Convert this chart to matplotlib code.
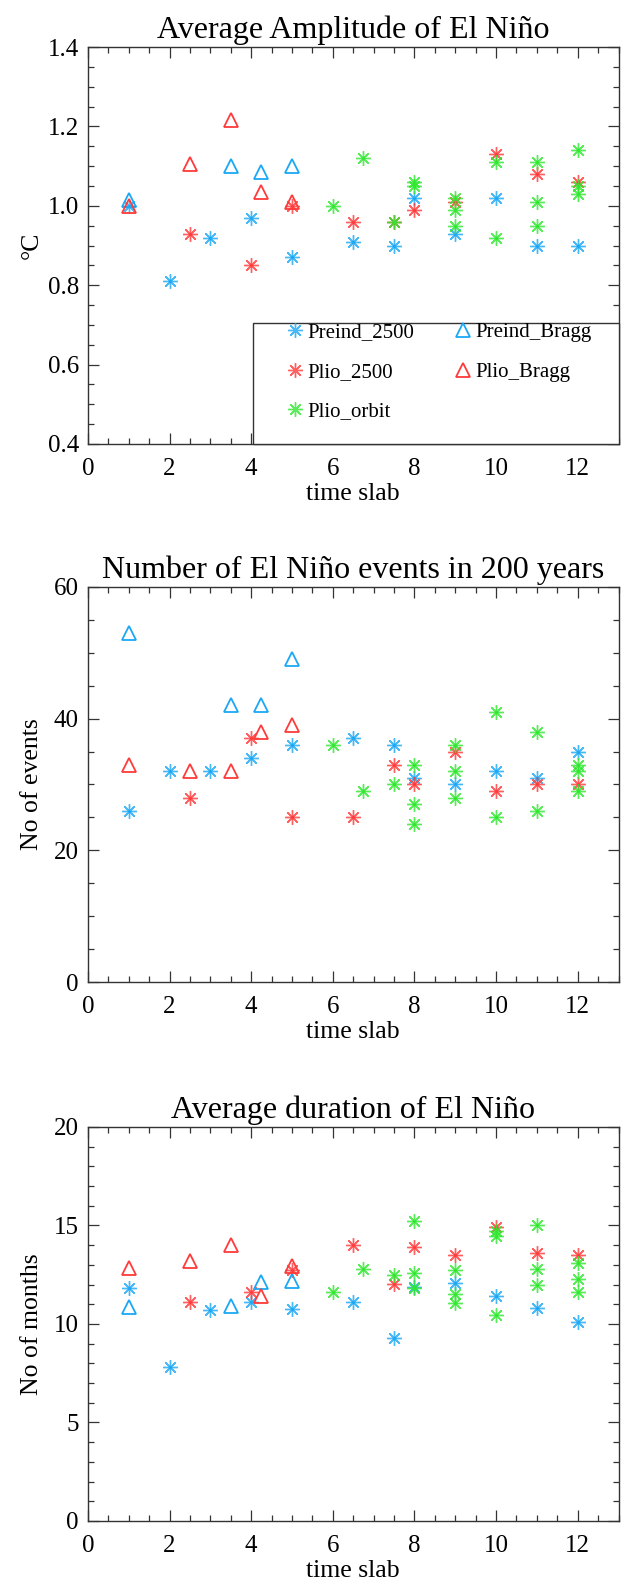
import matplotlib
matplotlib.use("Agg")
import matplotlib.pyplot as plt
from matplotlib.ticker import MultipleLocator, FormatStrFormatter
from matplotlib.patches import Rectangle

plt.rcParams['font.family'] = ['Liberation Serif', 'DejaVu Serif']

# x positions (time slabs) shared by all panels
preind2500_x = [1, 2, 3, 4, 5, 6.5, 7.5, 8, 9, 10, 11, 12]
preindbragg_x = [1, 3.5, 4.25, 5]
pliobragg_x = [1, 2.5, 3.5, 4.25, 5]
plio2500_x = [2.5, 4, 5, 6.5, 7.5, 8, 9, 10, 11, 12]

# Average amplitude (degC)
amp_preind2500 = [1.0, 0.81, 0.92, 0.97, 0.87, 0.91, 0.90, 1.02, 0.93, 1.02, 0.90, 0.90]
amp_preindbragg = [1.015, 1.10, 1.085, 1.10]
amp_pliobragg = [1.0, 1.105, 1.217, 1.036, 1.01]
amp_plio2500 = [0.93, 0.85, 1.0, 0.96, 0.96, 0.99, 1.01, 1.13, 1.08, 1.06]
amp_orbit_x = [6, 6.75, 7.5, 8, 8, 9, 9, 9, 10, 10, 11, 11, 11, 12, 12, 12]
amp_orbit = [1.0, 1.12, 0.96, 1.06, 1.05, 1.02, 0.99, 0.95, 1.11, 0.92, 1.11, 1.01, 0.95, 1.14, 1.05, 1.03]

# Number of events in 200 years
num_preind2500 = [26, 32, 32, 34, 36, 37, 36, 31, 30, 32, 31, 35]
num_preindbragg = [53, 42, 42, 49]
num_pliobragg = [33, 32, 32, 38, 39]
num_plio2500 = [28, 37, 25, 25, 33, 30, 35, 29, 30, 30]
num_orbit_x = [6, 6.75, 7.5, 8, 8, 8, 9, 9, 9, 10, 10, 11, 11, 12, 12, 12]
num_orbit = [36, 29, 30, 33, 27, 24, 36, 32, 28, 41, 25, 38, 26, 33, 32, 29]

# Average duration (months)
dur_preind2500 = [11.8, 7.8, 10.7, 11.1, 10.75, 11.1, 9.3, 11.9, 12.1, 11.4, 10.8, 10.1]
dur_preindbragg = [10.85, 10.9, 12.15, 12.2]
dur_pliobragg = [12.85, 13.2, 14.0, 11.4, 12.95]
dur_plio2500 = [11.1, 11.6, 12.75, 14.0, 12.05, 13.9, 13.5, 14.9, 13.6, 13.5]
dur_orbit_x = [6, 6.75, 7.5, 8, 8, 8, 9, 9, 9, 10, 10, 10, 11, 11, 11, 12, 12, 12]
dur_orbit = [11.6, 12.8, 12.5, 15.2, 12.6, 11.8, 12.75, 11.5, 11.05, 14.7, 14.45, 10.45,
             15.0, 12.8, 12.0, 13.1, 12.3, 11.6]

blue = '#1aa8f5'
red = '#ff3a3a'
green = '#2ee82e'
ast = (8, 2, 0)


def star(ax, x, y, c, label=None):
    ax.plot(x, y, ls='none', marker=ast, ms=10.5, mew=1.0, color=c, alpha=0.8, label=label)
    ax.plot(x, y, ls='none', marker='o', ms=2.2, mew=0, color=c)


def tri(ax, x, y, c, label=None):
    ax.plot(x, y, ls='none', marker='^', ms=10.5, mew=1.3, mfc='none', mec=c, label=label)


fig = plt.figure(figsize=(6.21, 15.89), dpi=100)
rects = [[0.1417, 0.7206, 0.8543, 0.2498],
         [0.1417, 0.382, 0.8543, 0.2486],
         [0.1417, 0.0428, 0.8543, 0.248]]

panels = [
    ("Average Amplitude of El Niño", "°C", (0.4, 1.4), 0.2, 0.05,
     amp_preind2500, amp_preindbragg, amp_pliobragg, amp_plio2500, amp_orbit_x, amp_orbit),
    ("Number of El Niño events in 200 years", "No of events", (0, 60), 20, 5,
     num_preind2500, num_preindbragg, num_pliobragg, num_plio2500, num_orbit_x, num_orbit),
    ("Average duration of El Niño", "No of months", (0, 20), 5, 1,
     dur_preind2500, dur_preindbragg, dur_pliobragg, dur_plio2500, dur_orbit_x, dur_orbit),
]

for i, (title, ylab, ylim, major, minor, p25, pb, lb, l25, ox, oy) in enumerate(panels):
    ax = fig.add_axes(rects[i])
    star(ax, preind2500_x, p25, blue, 'Preind_2500')
    star(ax, plio2500_x, l25, red, 'Plio_2500')
    star(ax, ox, oy, green, 'Plio_orbit')
    tri(ax, preindbragg_x, pb, blue, 'Preind_Bragg')
    tri(ax, pliobragg_x, lb, red, 'Plio_Bragg')

    ax.set_xlim(0, 13)
    ax.set_ylim(*ylim)
    ax.xaxis.set_major_locator(MultipleLocator(2))
    ax.xaxis.set_minor_locator(MultipleLocator(0.5))
    ax.yaxis.set_major_locator(MultipleLocator(major))
    ax.yaxis.set_minor_locator(MultipleLocator(minor))
    if i == 0:
        ax.yaxis.set_major_formatter(FormatStrFormatter('%.1f'))
    ax.tick_params(which='both', direction='in', top=True, right=True,
                   labelsize=18, width=0.9, color='#333333')
    ax.tick_params(which='major', length=8)
    ax.tick_params(which='minor', length=4)
    ax.tick_params(axis='x', which='major', pad=10)
    ax.tick_params(axis='y', which='major', pad=6.5)
    for s in ax.spines.values():
        s.set_linewidth(1.0)
        s.set_color('#333333')
    ax.set_title(title, fontsize=23, pad=6.5)
    ax.set_xlabel('time slab', fontsize=18.5, labelpad=2)
    ax.set_ylabel(ylab, fontsize=18.5)
    ax.yaxis.set_label_coords(-0.085, 0.5)

    if i == 0:
        # legend box drawn by hand so it runs to the right spine and the x axis
        ax.add_patch(Rectangle((0.311, 0.0), 0.689, 0.305, transform=ax.transAxes,
                               facecolor='white', edgecolor='#333333', lw=1.0,
                               zorder=4, clip_on=False))
        handles, labels = ax.get_legend_handles_labels()
        leg = ax.legend(handles, labels, ncol=2, loc='upper left',
                        bbox_to_anchor=(0.3745, 0.305), borderaxespad=0, borderpad=0,
                        frameon=False, fontsize=15, handlelength=0.8,
                        handletextpad=0.18, labelspacing=0.95, columnspacing=1.95)
        leg.set_zorder(5)

fig.savefig('out.png', dpi=100)
